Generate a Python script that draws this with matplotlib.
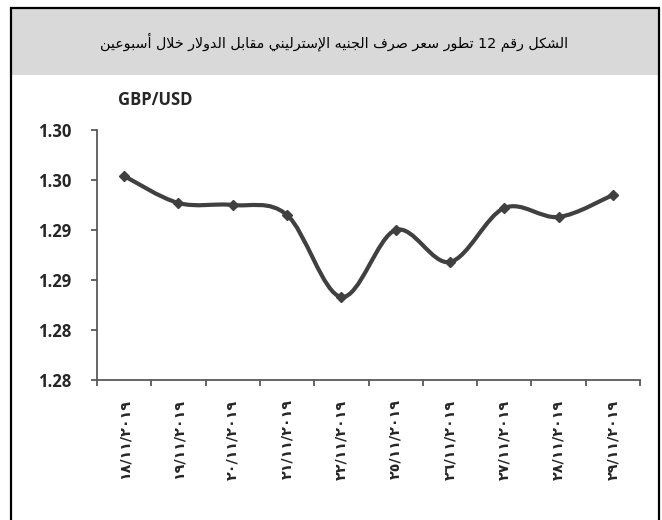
import re
import matplotlib
matplotlib.use("Agg")
import matplotlib.pyplot as plt
from matplotlib.path import Path
from matplotlib.patches import PathPatch, Rectangle
import numpy as np

# ---------------- data ----------------
dates = ["١٨/١١/٢٠١٩", "١٩/١١/٢٠١٩", "٢٠/١١/٢٠١٩", "٢١/١١/٢٠١٩", "٢٢/١١/٢٠١٩",
         "٢٥/١١/٢٠١٩", "٢٦/١١/٢٠١٩", "٢٧/١١/٢٠١٩", "٢٨/١١/٢٠١٩", "٢٩/١١/٢٠١٩"]
gbp_usd = [1.3004, 1.2977, 1.2975, 1.2965, 1.2883,
           1.2950, 1.2918, 1.2972, 1.2963, 1.2985]
y_ticks = [1.280, 1.285, 1.290, 1.295, 1.300, 1.305]
y_tick_labels = ["1.28", "1.28", "1.29", "1.29", "1.30", "1.30"]
title_text = "الشكل رقم 12 تطور سعر صرف الجنيه الإسترليني مقابل الدولار خلال أسبوعين"
unit_text = "GBP/USD"

# ---------------- minimal Arabic shaping ----------------
FORMS = {
    '\u0627': ('\uFE8D', '\uFE8E', None, None),
    '\u0623': ('\uFE83', '\uFE84', None, None),
    '\u0625': ('\uFE87', '\uFE88', None, None),
    '\u0622': ('\uFE81', '\uFE82', None, None),
    '\u0628': ('\uFE8F', '\uFE90', '\uFE91', '\uFE92'),
    '\u062A': ('\uFE95', '\uFE96', '\uFE97', '\uFE98'),
    '\u062C': ('\uFE9D', '\uFE9E', '\uFE9F', '\uFEA0'),
    '\u062E': ('\uFEA5', '\uFEA6', '\uFEA7', '\uFEA8'),
    '\u062F': ('\uFEA9', '\uFEAA', None, None),
    '\u0631': ('\uFEAD', '\uFEAE', None, None),
    '\u0633': ('\uFEB1', '\uFEB2', '\uFEB3', '\uFEB4'),
    '\u0634': ('\uFEB5', '\uFEB6', '\uFEB7', '\uFEB8'),
    '\u0635': ('\uFEB9', '\uFEBA', '\uFEBB', '\uFEBC'),
    '\u0637': ('\uFEC1', '\uFEC2', '\uFEC3', '\uFEC4'),
    '\u0639': ('\uFEC9', '\uFECA', '\uFECB', '\uFECC'),
    '\u0641': ('\uFED1', '\uFED2', '\uFED3', '\uFED4'),
    '\u0642': ('\uFED5', '\uFED6', '\uFED7', '\uFED8'),
    '\u0643': ('\uFED9', '\uFEDA', '\uFEDB', '\uFEDC'),
    '\u0644': ('\uFEDD', '\uFEDE', '\uFEDF', '\uFEE0'),
    '\u0645': ('\uFEE1', '\uFEE2', '\uFEE3', '\uFEE4'),
    '\u0646': ('\uFEE5', '\uFEE6', '\uFEE7', '\uFEE8'),
    '\u0647': ('\uFEE9', '\uFEEA', '\uFEEB', '\uFEEC'),
    '\u0648': ('\uFEED', '\uFEEE', None, None),
    '\u064A': ('\uFEF1', '\uFEF2', '\uFEF3', '\uFEF4'),
}
LAMALEF = {
    '\u0622': ('\uFEF5', '\uFEF6'),
    '\u0623': ('\uFEF7', '\uFEF8'),
    '\u0625': ('\uFEF9', '\uFEFA'),
    '\u0627': ('\uFEFB', '\uFEFC'),
}


def shape_arabic(text):
    chars = list(text)
    n = len(chars)
    out = []
    i = 0
    while i < n:
        c = chars[i]
        if c not in FORMS:
            out.append(c)
            i += 1
            continue
        prev_joins = i > 0 and chars[i - 1] in FORMS and FORMS[chars[i - 1]][2] is not None
        if c == '\u0644' and i + 1 < n and chars[i + 1] in LAMALEF:
            iso, fin = LAMALEF[chars[i + 1]]
            out.append(fin if prev_joins else iso)
            i += 2
            continue
        iso, fin, ini, med = FORMS[c]
        joins_next = ini is not None and i + 1 < n and chars[i + 1] in FORMS
        if prev_joins and joins_next:
            out.append(med)
        elif prev_joins:
            out.append(fin)
        elif joins_next:
            out.append(ini)
        else:
            out.append(iso)
        i += 1
    shaped = ''.join(out)
    tokens = re.findall(r'[0-9A-Za-z./]+|.', shaped)
    return ''.join(reversed(tokens))


# ---------------- figure ----------------
W, H = 662, 520
fig = plt.figure(figsize=(W / 100, H / 100), dpi=100)
fig.patch.set_facecolor("white")

# title band and outer frame
fig.patches.append(Rectangle((12 / W, 1 - 75 / H), 646 / W, 66 / H,
                             transform=fig.transFigure, facecolor="#d9d9d9",
                             edgecolor="none", zorder=0))
fig.patches.append(Rectangle((11 / W, -0.05), 648 / W, 1.05 - 8 / H,
                             transform=fig.transFigure, facecolor="none",
                             edgecolor="black", linewidth=1.6, zorder=1))

fig.text(334 / W, 1 - 42 / H, shape_arabic(title_text), ha="center", va="center",
         fontsize=10.3, family=["DejaVu Sans"], color="black")

ax = fig.add_axes([97 / W, 1 - 380 / H, (640 - 97) / W, (380 - 130) / H])
x = np.arange(len(gbp_usd))
y = np.asarray(gbp_usd)

# smoothed line (Catmull-Rom -> cubic Bezier), as Excel does
pts = np.column_stack([x, y])
ext = np.vstack([pts[0], pts, pts[-1]])
verts = [tuple(pts[0])]
codes = [Path.MOVETO]
for k in range(len(pts) - 1):
    p0, p1, p2, p3 = ext[k], ext[k + 1], ext[k + 2], ext[k + 3]
    c1 = p1 + (p2 - p0) / 6.0
    c2 = p2 - (p3 - p1) / 6.0
    verts += [tuple(c1), tuple(c2), tuple(p2)]
    codes += [Path.CURVE4] * 3
line_color = "#404040"
ax.add_patch(PathPatch(Path(verts, codes), facecolor="none", edgecolor=line_color,
                       linewidth=3.0, capstyle="round", joinstyle="round", zorder=3))
ax.plot(x, y, linestyle="none", marker="D", markersize=5, color=line_color, zorder=4)

ax.set_xlim(-0.5, len(gbp_usd) - 0.5)
ax.set_ylim(y_ticks[0], y_ticks[-1])

axis_color = "#595959"
for side in ("top", "right"):
    ax.spines[side].set_visible(False)
for side in ("left", "bottom"):
    ax.spines[side].set_color(axis_color)
    ax.spines[side].set_linewidth(1.3)

ax.set_yticks(y_ticks)
ax.set_yticklabels(y_tick_labels)
ax.tick_params(axis="y", direction="out", length=4.5, width=1.3, color=axis_color,
               pad=14, labelsize=12, labelcolor="#262626")
for lbl in ax.get_yticklabels():
    lbl.set_fontfamily("Open Sans")
    lbl.set_fontweight("bold")

ax.set_xticks(np.arange(-0.5, len(gbp_usd)), minor=False)
ax.set_xticklabels([])
ax.set_xticks(x, minor=True)
ax.set_xticklabels(dates, minor=True, rotation=90, fontsize=10.3,
                   family=["DejaVu Sans"], color="#262626", fontweight="bold")
ax.tick_params(axis="x", which="major", direction="out", length=4.5, width=1.3,
               color=axis_color)
ax.tick_params(axis="x", which="minor", length=0, pad=14)
for lbl in ax.get_xticklabels(minor=True):
    lbl.set_verticalalignment("top")

fig.text(118 / W, 1 - 100 / H, unit_text, ha="left", va="center", fontsize=12,
         family="Open Sans", fontweight="bold", color="#262626")

fig.savefig("out.png", dpi=100)
